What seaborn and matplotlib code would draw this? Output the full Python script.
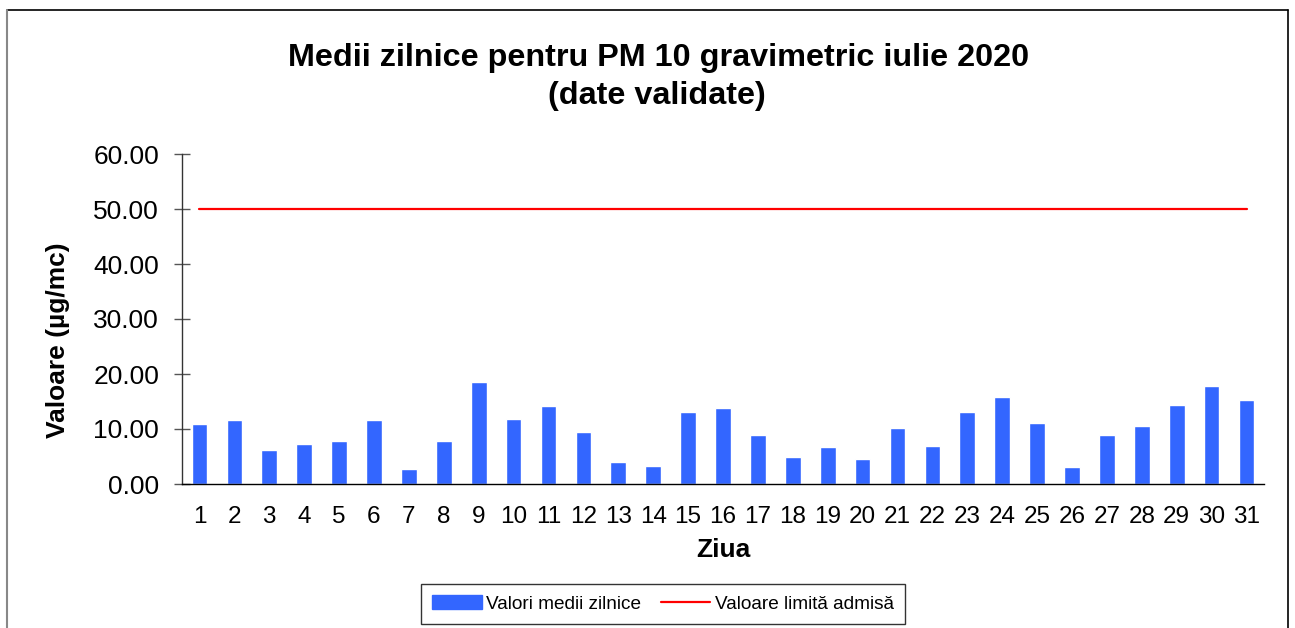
import numpy as np
import pandas as pd
import matplotlib
matplotlib.use("Agg")
import matplotlib.pyplot as plt
import seaborn as sns
from matplotlib.lines import Line2D
from matplotlib.ticker import FormatStrFormatter

# Data: daily PM10 means, July 2020
days = [str(d) for d in range(1, 32)]
daily_means = [10.9, 11.7, 6.2, 7.3, 7.8, 11.7, 2.7, 7.8, 18.6, 11.9,
               14.2, 9.5, 4.0, 3.3, 13.1, 13.9, 9.0, 4.9, 6.8, 4.5,
               10.2, 6.9, 13.1, 15.8, 11.1, 3.1, 8.9, 10.6, 14.4, 17.9,
               15.3]
limit_value = [50.0] * len(days)

title_line1 = "Medii zilnice pentru PM 10 gravimetric iulie 2020"
title_line2 = "(date validate)"
bar_label = "Valori medii zilnice"
line_label = "Valoare limită admisă"

sns.set_style("white")
plt.rcParams["font.family"] = ["Liberation Sans", "DejaVu Sans"]
plt.rcParams["text.color"] = "black"
plt.rcParams["axes.labelcolor"] = "black"
plt.rcParams["xtick.color"] = "black"
plt.rcParams["ytick.color"] = "black"

W, H = 1295, 628
fig = plt.figure(figsize=(W / 100, H / 100), dpi=100)
ax = fig.add_axes([182 / W, (H - 484) / H, 1082 / W, 330 / H])

df = pd.DataFrame({"Ziua": days, "Valoare": daily_means})
sns.barplot(data=df, x="Ziua", y="Valoare", color="#3366FF", saturation=1,
            width=0.45, ax=ax)
ax.plot(np.arange(len(days)), limit_value, color="#FF0000", lw=1.6)

ax.set_xlim(-0.5, len(days) - 0.5)
ax.set_ylim(0, 60)
ax.set_yticks(np.arange(0, 61, 10))
ax.yaxis.set_major_formatter(FormatStrFormatter("%.2f"))

for side in ["top", "right"]:
    ax.spines[side].set_visible(False)
ax.spines["left"].set_color("#333333")
ax.spines["left"].set_linewidth(1.0)
ax.spines["bottom"].set_color("black")
ax.spines["bottom"].set_linewidth(1.0)

ax.tick_params(axis="y", direction="inout", length=11, width=1,
               color="#555555", labelcolor="black", labelsize=19, pad=11,
               left=True)
ax.tick_params(axis="x", length=0, labelsize=17.5, pad=16, labelcolor="black")

ax.set_xlabel("Ziua", fontsize=19, fontweight="bold")
ax.xaxis.set_label_coords(0.5, -0.165)
ax.set_ylabel("Valoare (µg/mc)", fontsize=19, fontweight="bold")
ax.yaxis.set_label_coords(-0.1035, 0.436)

fig.text(659 / W, 1 - 66 / H, title_line1, ha="center", va="baseline",
         fontsize=23.3, fontweight="bold")
fig.text(657 / W, 1 - 104 / H, title_line2, ha="center", va="baseline",
         fontsize=23.3, fontweight="bold")

handles = [plt.Rectangle((0, 0), 1, 1, color="#3366FF"),
           Line2D([0], [0], color="#FF0000", lw=1.6)]
leg = fig.legend(handles, [bar_label, line_label], loc="center",
                 bbox_to_anchor=(663 / W, 1 - 604 / H), ncol=2,
                 fontsize=13.7, frameon=True, fancybox=False,
                 handlelength=2.6, handletextpad=0.25, columnspacing=1.0,
                 borderpad=0.6, borderaxespad=0)
leg.get_frame().set_edgecolor("black")
leg.get_frame().set_linewidth(1.0)

# outer chart border
fig.add_artist(Line2D([7 / W, 1288 / W], [1 - 10 / H, 1 - 10 / H],
                      transform=fig.transFigure, color="black", lw=1.2))
fig.add_artist(Line2D([7 / W, 7 / W], [0, 1 - 10 / H],
                      transform=fig.transFigure, color="#888888", lw=1.5))
fig.add_artist(Line2D([1288 / W, 1288 / W], [0, 1 - 10 / H],
                      transform=fig.transFigure, color="black", lw=1.2))

fig.savefig("out.png", dpi=100)
plt.close(fig)
